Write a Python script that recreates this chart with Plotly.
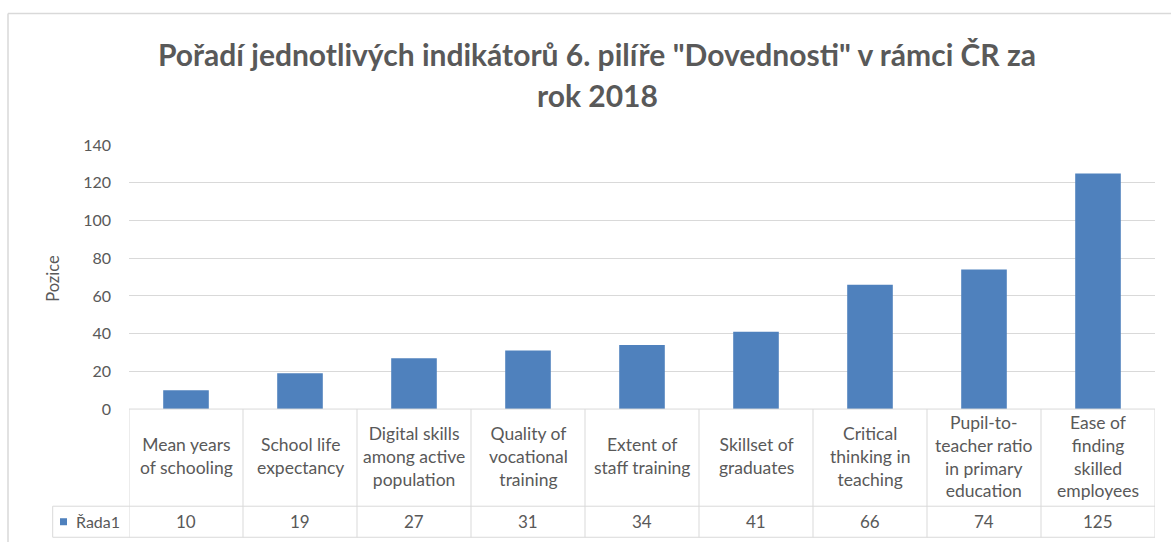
import plotly.graph_objects as go

W, H = 1171, 552

categories = [
    "Mean years<br>of schooling",
    "School life<br>expectancy",
    "Digital skills<br>among active<br>population",
    "Quality of<br>vocational<br>training",
    "Extent of<br>staff training",
    "Skillset of<br>graduates",
    "Critical<br>thinking in<br>teaching",
    "Pupil-to-<br>teacher ratio<br>in primary<br>education",
    "Ease of<br>finding<br>skilled<br>employees",
]
values = [10, 19, 27, 31, 34, 41, 66, 74, 125]
series_name = "Řada1"
y_ticks = [0, 20, 40, 60, 80, 100, 120, 140]
title_lines = ['Pořadí jednotlivých indikátorů 6. pilíře "Dovednosti" v rámci ČR za', 'rok 2018']
y_title = "Pozice"

BAR = "#4f81bd"
GRID = "#d9d9d9"
TXT = "#595959"
FONT = "Lato"

def px(x):
    return x / W

def py(y):
    # target screen y -> paper fraction (compensates for observed vertical mapping)
    yy = (y - 9.6) / 0.964
    return 1 - yy / H

# layout geometry (target pixels)
plot_l, plot_r = 129, 1155
plot_top, plot_bot = 144.5, 408
row_mid, table_bot = 505, 536
leg_l = 52.7

fig = go.Figure()
fig.add_trace(go.Bar(
    x=categories, y=values, name=series_name,
    marker=dict(color=BAR, line=dict(width=0)),
    width=0.4, showlegend=False, hoverinfo="x+y",
))

shapes = []
n = len(categories)
# chart border
shapes.append(dict(type="line", xref="paper", yref="paper", x0=px(8), x1=1.0, y0=py(13), y1=py(13),
                   line=dict(color=GRID, width=1.5)))
shapes.append(dict(type="line", xref="paper", yref="paper", x0=px(8), x1=px(8), y0=py(13), y1=0,
                   line=dict(color=GRID, width=1.5)))
# table horizontal lines
shapes.append(dict(type="line", xref="x", yref="paper", x0=-0.5, x1=n - 0.5, y0=py(plot_bot), y1=py(plot_bot),
                   line=dict(color=GRID, width=1)))
for yy in (row_mid, table_bot):
    shapes.append(dict(type="line", xref="paper", yref="paper", x0=px(leg_l), x1=px(plot_r), y0=py(yy), y1=py(yy),
                       line=dict(color=GRID, width=1)))
# table vertical lines
for i in range(n + 1):
    shapes.append(dict(type="line", xref="x", yref="paper", x0=i - 0.5, x1=i - 0.5,
                       y0=py(plot_bot), y1=py(table_bot), line=dict(color=GRID, width=1)))
shapes.append(dict(type="line", xref="paper", yref="paper", x0=px(leg_l), x1=px(leg_l),
                   y0=py(row_mid), y1=py(table_bot), line=dict(color=GRID, width=1)))
# legend key square
shapes.append(dict(type="rect", xref="paper", yref="paper", x0=px(60), x1=px(67), y0=py(524), y1=py(517),
                   fillcolor=BAR, line=dict(width=0)))

annotations = []
annotations.append(dict(text=f"<b>{title_lines[0]}</b>", x=px(597), y=py(54), xref="paper", yref="paper",
                        showarrow=False, xanchor="center", yanchor="middle",
                        font=dict(family=FONT, size=30, color=TXT)))
annotations.append(dict(text=f"<b>{title_lines[1]}</b>", x=px(597), y=py(94), xref="paper", yref="paper",
                        showarrow=False, xanchor="center", yanchor="middle",
                        font=dict(family=FONT, size=30, color=TXT)))
annotations.append(dict(text=y_title, x=px(53), y=py(278), xref="paper", yref="paper", textangle=-90,
                        showarrow=False, xanchor="center", yanchor="middle",
                        font=dict(family=FONT, size=16.5, color=TXT)))
for c, v in zip(categories, values):
    annotations.append(dict(text=c, x=c, y=py((plot_bot + row_mid) / 2 - 1.5), xref="x", yref="paper",
                            showarrow=False, xanchor="center", yanchor="middle", align="center",
                            font=dict(family=FONT, size=17.5, color=TXT)))
    annotations.append(dict(text=str(v), x=c, y=py((row_mid + table_bot) / 2), xref="x", yref="paper",
                            showarrow=False, xanchor="center", yanchor="middle",
                            font=dict(family=FONT, size=17, color=TXT)))
annotations.append(dict(text=series_name, x=px(74), y=py((row_mid + table_bot) / 2), xref="paper", yref="paper",
                        showarrow=False, xanchor="left", yanchor="middle",
                        font=dict(family=FONT, size=16, color=TXT)))

fig.update_layout(
    width=W, height=H,
    margin=dict(l=0, r=0, t=0, b=0),
    paper_bgcolor="white", plot_bgcolor="white",
    xaxis=dict(domain=[px(plot_l), px(plot_r)], range=[-0.5, n - 0.5], showticklabels=False,
               showgrid=False, zeroline=False, showline=False, fixedrange=True),
    yaxis=dict(domain=[py(plot_bot), py(plot_top)], range=[0, 140], tickvals=y_ticks,
               showgrid=True, gridcolor=GRID, gridwidth=1, zeroline=False, showline=False,
               ticks="", ticklabelstandoff=17,
               tickfont=dict(family=FONT, size=16, color=TXT), fixedrange=True),
    shapes=shapes, annotations=annotations,
    bargap=0.6,
)

fig.write_html("out.html", config={"displayModeBar": False},
               post_script="document.body.style.margin='0';document.body.style.overflow='hidden';")
